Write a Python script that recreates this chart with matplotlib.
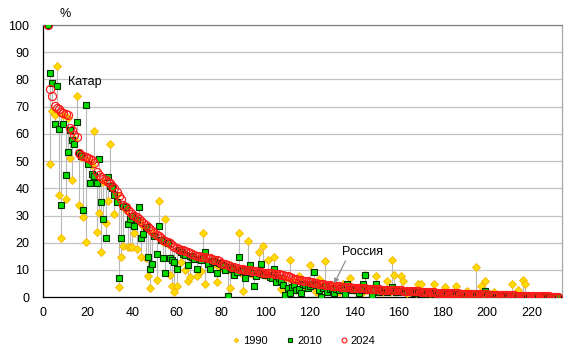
import numpy as np
import matplotlib.pyplot as plt

# ---------- data (countries ranked by 2024 share, %) ----------
rank_start = 2

share_2024 = [
    100, 76.6, 74.0, 70.4, 69.6, 69.0, 68.2, 67.5, 67.2, 66.9,
    62.2, 61.4, 59.6, 58.7, 53.0, 52.4, 51.9, 51.4, 51.0, 50.7,
    50.3, 49.2, 46.0, 45.0, 44.2, 43.6, 43.2, 42.5, 41.8, 41.0,
    40.2, 38.5, 37.0, 36.0, 34.0, 33.0, 32.0, 31.2, 30.6, 30.0,
    29.4, 28.8, 28.0, 27.2, 26.5, 25.6, 25.0, 24.3, 23.6, 23.0,
    22.3, 21.7, 21.0, 20.6, 20.2, 19.8, 19.3, 18.6, 18.0, 17.8,
    17.5, 17.2, 16.8, 16.5, 16.1, 15.8, 15.5, 15.2, 15.0, 14.9,
    14.8, 14.7, 14.5, 14.3, 14.0, 13.8, 13.6, 13.1, 12.7, 12.3,
    12.0, 11.7, 11.4, 11.1, 10.9, 10.7, 10.5, 10.3, 10.2, 10.1,
    9.9, 9.8, 9.7, 9.6, 9.5, 9.3, 9.2, 9.0, 8.9, 8.8,
    8.8, 8.7, 8.6, 8.5, 8.4, 8.2, 8.0, 7.8, 7.6, 7.3,
    7.0, 6.8, 6.6, 6.4, 6.3, 6.1, 6.0, 5.8, 5.6, 5.5,
    5.3, 5.2, 5.0, 4.8, 4.7, 4.5, 4.4, 4.3, 4.2, 4.1,
    4.0, 4.0, 3.9, 3.8, 3.8, 3.7, 3.6, 3.5, 3.4, 3.4,
    3.3, 3.3, 3.2, 3.2, 3.1, 3.1, 3.0, 3.0, 2.9, 2.9,
    2.8, 2.8, 2.8, 2.7, 2.7, 2.6, 2.6, 2.6, 2.5, 2.5,
    2.4, 2.4, 2.3, 2.3, 2.2, 2.2, 2.1, 2.1, 2.0, 2.0,
    1.9, 1.9, 1.8, 1.8, 1.8, 1.7, 1.7, 1.6, 1.6, 1.6,
    1.5, 1.5, 1.5, 1.4, 1.4, 1.4, 1.3, 1.3, 1.3, 1.2,
    1.2, 1.2, 1.1, 1.1, 1.1, 1.0, 1.0, 1.0, 1.0, 0.9,
    0.9, 0.9, 0.9, 0.8, 0.8, 0.8, 0.8, 0.7, 0.7, 0.7,
    0.7, 0.6, 0.6, 0.6, 0.6, 0.5, 0.5, 0.5, 0.5, 0.4,
    0.4, 0.4, 0.4, 0.3, 0.3, 0.3, 0.3, 0.2, 0.2, 0.2,
    0.1,
]

share_1990 = [
    100, 48.8, 68.4, 66.9, 84.9, 37.4, 21.9, 66.8, 35.9, 66.0,
    51.0, 43.0, 58.0, 73.8, 33.9, 51.5, 29.3, 20.2, 50.2, 49.8,
    48.5, 61.0, 23.9, 30.8, 16.5, 42.5, 27.3, 35.4, 56.3, 40.0,
    30.4, 37.5, 3.6, 14.6, 18.8, 32.0, 18.3, 18.3, 18.3, 23.7,
    17.8, 28.0, 14.8, 26.0, 14.5, 7.8, 3.2, 23.5, 22.8, 6.3,
    35.2, 21.0, 20.2, 28.9, 19.5, 8.3, 4.0, 1.8, 4.0, 17.0,
    13.0, 16.5, 10.0, 6.0, 7.5, 15.0, 14.5, 7.7, 14.0, 9.5,
    23.7, 5.0, 13.0, 12.5, 13.5, 12.0, 5.6, 11.0, 12.0, 10.5,
    11.0, 10.0, 3.2, 10.5, 9.5, 10.0, 23.7, 9.0, 2.3, 9.5,
    20.8, 9.0, 8.5, 8.0, 9.0, 16.5, 8.5, 18.8, 8.0, 13.6,
    8.0, 7.5, 14.6, 7.0, 6.5, 3.0, 7.0, 6.5, 2.0, 13.5,
    6.0, 5.5, 2.5, 7.7, 5.5, 3.0, 5.0, 4.5, 11.8, 4.0,
    4.5, 2.0, 6.5, 4.0, 3.5, 13.2, 3.0, 2.5, 3.5, 4.0,
    3.0, 2.0, 3.5, 5.0, 2.5, 3.0, 6.9, 3.0, 2.5, 3.0,
    2.5, 3.5, 2.0, 8.0, 2.5, 3.0, 2.0, 2.5, 7.7, 2.0,
    2.5, 2.0, 2.5, 5.9, 2.0, 13.5, 8.0, 2.0, 2.5, 7.7,
    5.9, 2.0, 1.5, 2.0, 1.8, 2.0, 1.5, 5.0, 5.0, 1.5,
    1.5, 1.5, 1.5, 1.2, 5.0, 1.5, 1.2, 1.0, 1.2, 3.6,
    1.2, 1.0, 1.2, 1.0, 4.0, 1.2, 1.0, 1.0, 0.8, 2.3,
    1.0, 0.8, 1.0, 11.2, 0.8, 4.0, 1.0, 5.8, 0.8, 1.0,
    0.8, 2.0, 0.8, 0.6, 0.8, 0.7, 0.6, 0.6, 0.5, 4.7,
    0.6, 0.5, 2.6, 0.5, 6.3, 5.0, 0.4, 0.5, 0.4, 0.4,
    0.3, 0.4, 0.3, 0.3, 0.2, 0.3, 0.2, 0.2, 0.2, 0.1,
    0.1,
]

share_2010 = [
    100, 82.4, 78.6, 63.5, 77.6, 61.9, 33.9, 63.5, 45.0, 53.3,
    61.6, 57.7, 56.3, 64.3, 52.8, 51.8, 31.9, 70.8, 48.9, 42.1,
    45.2, 44.5, 42.1, 50.6, 34.8, 28.9, 21.6, 44.2, 40.8, 40.2,
    37.4, 35.1, 7.2, 21.8, 33.5, 33.0, 26.8, 28.6, 30.0, 26.2,
    28.5, 33.0, 21.6, 23.2, 25.8, 14.8, 10.5, 12.0, 22.5, 16.0,
    26.3, 21.0, 14.3, 8.8, 19.8, 14.5, 13.6, 13.0, 10.2, 17.2,
    16.5, 16.0, 15.5, 11.8, 15.0, 14.8, 14.2, 10.5, 14.0, 13.8,
    14.5, 16.7, 12.0, 10.2, 13.2, 13.0, 9.0, 12.5, 12.0, 11.5,
    10.0, 0.3, 11.0, 10.5, 8.1, 9.3, 14.6, 9.8, 9.6, 7.2,
    9.5, 11.8, 9.0, 4.0, 7.7, 8.8, 12.0, 8.5, 8.2, 8.0,
    7.5, 6.9, 10.5, 5.5, 7.0, 6.0, 4.5, 0.7, 3.5, 1.6,
    3.8, 4.5, 2.5, 3.0, 1.6, 5.0, 4.5, 3.5, 4.0, 5.0,
    9.3, 4.5, 2.5, 0.0, 3.5, 4.0, 2.0, 3.0, 3.5, 1.6,
    3.0, 2.5, 3.2, 2.8, 1.1, 4.8, 3.0, 2.5, 3.0, 2.8,
    1.4, 2.5, 4.8, 8.0, 2.5, 3.0, 0.4, 2.8, 5.0, 2.0,
    2.5, 2.2, 2.5, 2.0, 2.5, 3.8, 2.2, 2.0, 2.3, 2.2,
    2.0, 2.2, 2.0, 2.1, 1.8, 1.5, 2.0, 1.8, 1.5, 1.8,
    1.2, 1.5, 1.6, 1.5, 1.2, 1.5, 1.4, 1.3, 1.5, 1.4,
    1.3, 1.2, 1.4, 1.2, 1.3, 1.2, 1.1, 1.2, 1.0, 1.1,
    1.0, 0.9, 1.0, 0.8, 1.0, 0.9, 0.8, 2.2, 0.9, 0.8,
    0.8, 0.7, 0.8, 0.7, 0.6, 0.7, 0.6, 0.6, 0.5, 0.6,
    0.5, 0.5, 0.5, 0.4, 0.5, 0.4, 0.4, 0.3, 0.4, 0.3,
    0.3, 0.3, 0.2, 0.3, 0.2, 0.2, 0.2, 0.1, 0.2, 0.1,
    0.1,
]

years = ["1990", "2010", "2024"]
x_ticks = [0, 20, 40, 60, 80, 100, 120, 140, 160, 180, 200, 220]
y_ticks = [0, 10, 20, 30, 40, 50, 60, 70, 80, 90, 100]

qatar_label = "Катар"
russia_label = "Россия"
russia_rank = 131


def main():
    plt.rcParams["font.family"] = ["Liberation Sans", "DejaVu Sans"]

    y90 = np.array(share_1990, dtype=float)
    y10 = np.array(share_2010, dtype=float)
    y24 = np.array(share_2024, dtype=float)
    x = np.arange(rank_start, rank_start + len(y24))

    lo = np.minimum(np.minimum(y90, y10), y24)
    hi = np.maximum(np.maximum(y90, y10), y24)

    fig = plt.figure(figsize=(5.79, 3.58), dpi=100)
    ax = fig.add_axes([0.075, 0.170, 0.895, 0.760])

    # high-low lines between the three years
    ax.vlines(x, lo, hi, color="#b8b8b8", linewidth=0.8, zorder=2)

    ax.plot(x, y90, linestyle="none", marker="D", markersize=3.9,
            markerfacecolor="#ffdc00", markeredgecolor="#f5b400",
            markeredgewidth=0.6, label=years[0], zorder=3)
    ax.plot(x, y10, linestyle="none", marker="s", markersize=5.0,
            markerfacecolor="#00dc00", markeredgecolor="#003000",
            markeredgewidth=0.8, label=years[1], zorder=4)
    ax.plot(x, y24, linestyle="none", marker="o", markersize=5.8,
            markerfacecolor="none", markeredgecolor="#ff1a1a",
            markeredgewidth=0.85, label=years[2], zorder=5)

    ax.set_xlim(0, 233.5)
    ax.set_ylim(0, 100)
    ax.set_xticks(x_ticks)
    ax.set_yticks(y_ticks)
    ax.tick_params(axis="both", length=0, labelsize=9, pad=7)
    ax.tick_params(axis="y", pad=10)

    ax.grid(True, axis="y", color="#c4c4c4", linewidth=0.9)
    ax.set_axisbelow(True)
    ax.spines["left"].set_color("black")
    ax.spines["bottom"].set_color("black")
    ax.spines["top"].set_color("#808080")
    ax.spines["right"].set_color("#a8a8a8")
    for s in ax.spines.values():
        s.set_linewidth(0.9)

    ax.text(9.8, 104, "%", fontsize=9, ha="center", va="center", clip_on=False)
    ax.text(11.2, 79, qatar_label, fontsize=9, ha="left", va="center")
    ax.annotate(
        russia_label,
        xy=(russia_rank, 5.0),
        xytext=(134.5, 16.5),
        fontsize=9,
        ha="left",
        va="center",
        arrowprops=dict(arrowstyle="-|>", color="#909090", lw=0.9,
                        mutation_scale=7, shrinkA=0, shrinkB=0,
                        relpos=(0.12, 0.0)),
        zorder=6,
    )

    fig.legend(
        loc="center",
        bbox_to_anchor=(0.525, 0.047),
        ncol=3,
        frameon=False,
        fontsize=8,
        markerscale=0.6,
        handlelength=0.7,
        handletextpad=0.3,
        columnspacing=1.6,
    )

    fig.savefig("out.png", dpi=100)
    plt.close(fig)


if __name__ == "__main__":
    main()
